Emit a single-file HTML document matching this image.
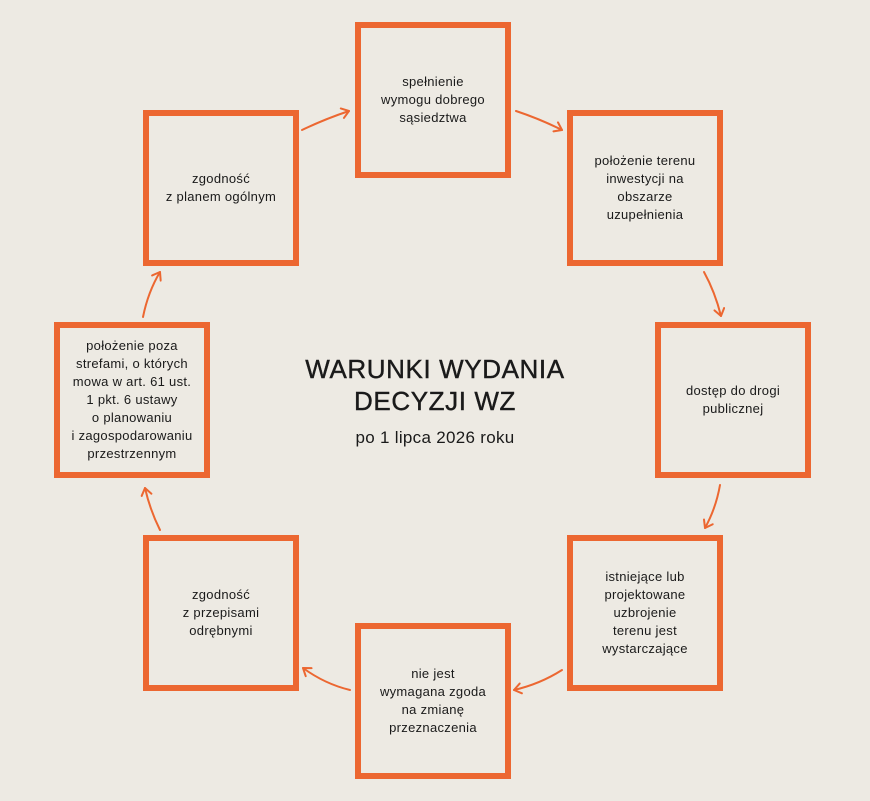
<!DOCTYPE html>
<html><head><meta charset="utf-8"><style>
body{margin:0;width:870px;height:801px;background:#edeae3;position:relative;overflow:hidden;font-family:"Liberation Sans",sans-serif;color:#1a1a1a}
.b{position:absolute;width:144px;height:144px;border:6px solid #ec6731;display:flex;align-items:center;justify-content:center;text-align:center;font-size:13px;line-height:18px;letter-spacing:0.3px}
.t{position:absolute;left:0;width:870px;text-align:center}
</style></head><body>
<div class="b" style="left:355px;top:22px">spełnienie<br>wymogu dobrego<br>sąsiedztwa</div>
<div class="b" style="left:567px;top:110px">położenie terenu<br>inwestycji na<br>obszarze<br>uzupełnienia</div>
<div class="b" style="left:655px;top:322px">dostęp do drogi<br>publicznej</div>
<div class="b" style="left:567px;top:535px">istniejące lub<br>projektowane<br>uzbrojenie<br>terenu jest<br>wystarczające</div>
<div class="b" style="left:355px;top:623px">nie jest<br>wymagana zgoda<br>na zmianę<br>przeznaczenia</div>
<div class="b" style="left:143px;top:535px">zgodność<br>z przepisami<br>odrębnymi</div>
<div class="b" style="left:54px;top:322px">położenie poza<br>strefami, o których<br>mowa w art. 61 ust.<br>1 pkt. 6 ustawy<br>o planowaniu<br>i zagospodarowaniu<br>przestrzennym</div>
<div class="b" style="left:143px;top:110px">zgodność<br>z planem ogólnym</div>
<div class="t" style="top:353px;font-size:26px;line-height:32px;letter-spacing:0.6px;-webkit-text-stroke:0.4px #1a1a1a">WARUNKI WYDANIA<br>DECYZJI WZ</div>
<div class="t" style="top:428px;font-size:17px;letter-spacing:0.3px">po 1 lipca 2026 roku</div>
<svg width="870" height="801" style="position:absolute;left:0;top:0" fill="none" stroke="#ec6731" stroke-width="2" stroke-linecap="round" stroke-linejoin="round">
<defs><marker id="a" markerWidth="12" markerHeight="12" refX="9" refY="6" orient="auto" markerUnits="userSpaceOnUse"><path d="M2,1 L9,6 L2,11" fill="none" stroke="#ec6731" stroke-width="2"/></marker></defs>
<path d="M302,130 Q325,119 349,111" marker-end="url(#a)"/>
<path d="M516,111 Q540,119 562,130" marker-end="url(#a)"/>
<path d="M704,272 Q715,292 721,316" marker-end="url(#a)"/>
<path d="M720,485 Q716,508 705,528" marker-end="url(#a)"/>
<path d="M562,670 Q540,684 514,690" marker-end="url(#a)"/>
<path d="M350,690 Q325,684 303,668" marker-end="url(#a)"/>
<path d="M160,530 Q150,510 145,488" marker-end="url(#a)"/>
<path d="M143,317 Q148,292 160,272" marker-end="url(#a)"/>
</svg>
</body></html>
